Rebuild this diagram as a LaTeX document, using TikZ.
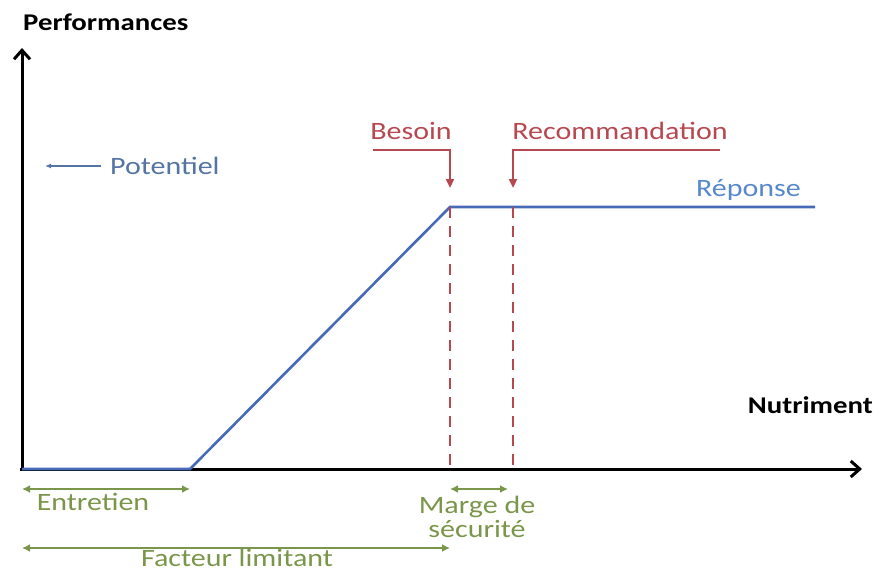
\documentclass[tikz,border=0pt]{standalone}
\usepackage{fontspec}
\setmainfont{Carlito}[FakeStretch=1.2]
\usepackage{xcolor}
\usetikzlibrary{arrows.meta}

\definecolor{courbebleu}{RGB}{70,106,184}
\definecolor{textebleu}{RGB}{88,136,204}
\definecolor{potbleu}{RGB}{84,116,164}
\definecolor{rouge}{RGB}{184,72,80}
\definecolor{vert}{RGB}{122,150,74}

\tikzset{
  axe/.style={line width=3pt, -{Straight Barb[length=9pt, width=16pt, line width=3pt]}},
  etiquette/.style={font=\fontsize{25}{27}\selectfont, inner sep=0pt},
  titre/.style={font=\fontsize{24}{26}\selectfont\bfseries, inner sep=0pt},
  repere/.style={rouge, line width=2.2pt, -{Triangle[length=9pt, width=8pt]}},
  intervalle/.style={vert, line width=2.2pt, {Latex[length=8pt, width=8pt]}-{Latex[length=8pt, width=8pt]}}
}

\begin{document}
\begin{tikzpicture}[x=1pt, y=-1pt]
    \useasboundingbox (0,0) rectangle (877,572);

    \coordinate (O) at (22,469);
    \coordinate (Ymax) at (22,48);
    \coordinate (Xmax) at (862,469);
    \coordinate (Seuil) at (190,469);
    \coordinate (Coude) at (450,207);
    \coordinate (Fin) at (815,207);
    \coordinate (BesBas) at (450,469);
    \coordinate (RecHaut) at (513,207);
    \coordinate (RecBas) at (513,469);

    % axes
    \draw[axe] (O) -- (Ymax);
    \draw[axe] ([xshift=-2pt]O) -- (Xmax);
    \node[titre, anchor=west] (perf) at (23,22) {Performances};
    \node[titre, anchor=east] (nutri) at (873,405) {Nutriment};

    % potentiel
    \node[etiquette, potbleu, anchor=west] (pot) at (110,166) {Potentiel};
    \coordinate (PotFin) at (45,166);
    \draw[potbleu, line width=1.3pt, -{Latex[length=6pt, width=5pt]}] ([xshift=-9pt]pot.west) -- (PotFin);

    % reponse
    \draw[courbebleu, line width=2.6pt] (O) -- (Seuil) -- (Coude) -- (Fin);
    \node[etiquette, textebleu, anchor=east] (rep) at (801,190) {Réponse};

    % besoin et recommandation
    \draw[rouge, line width=2.4pt, dash pattern=on 11pt off 8pt] (Coude) -- (BesBas);
    \draw[rouge, line width=2.4pt, dash pattern=on 11pt off 8pt] (RecHaut) -- (RecBas);
    \node[etiquette, rouge] (bes) at (411,131) {Besoin};
    \node[etiquette, rouge] (rec) at (620,131) {Recommandation};
    \draw[repere] (373,150) -| ([yshift=19pt]Coude);
    \draw[repere] (720,150) -| ([yshift=19pt]RecHaut);

    % intervalles
    \draw[intervalle] ([yshift=-20pt]O) -- ([yshift=-20pt]Seuil);
    \node[etiquette, vert] (ent) at (93,502) {Entretien};
    \draw[intervalle] ([yshift=-20pt]BesBas) -- ([shift={(-5pt,-20pt)}]RecBas);
    \node[etiquette, vert, align=center, font=\fontsize{25}{24}\selectfont] (marge) at (477,517) {Marge de\\ sécurité};
    \draw[intervalle] ([yshift=-79pt]O) -- ([yshift=-79pt]BesBas);
    \node[etiquette, vert] (fact) at (237,558) {Facteur limitant};
\end{tikzpicture}
\end{document}
